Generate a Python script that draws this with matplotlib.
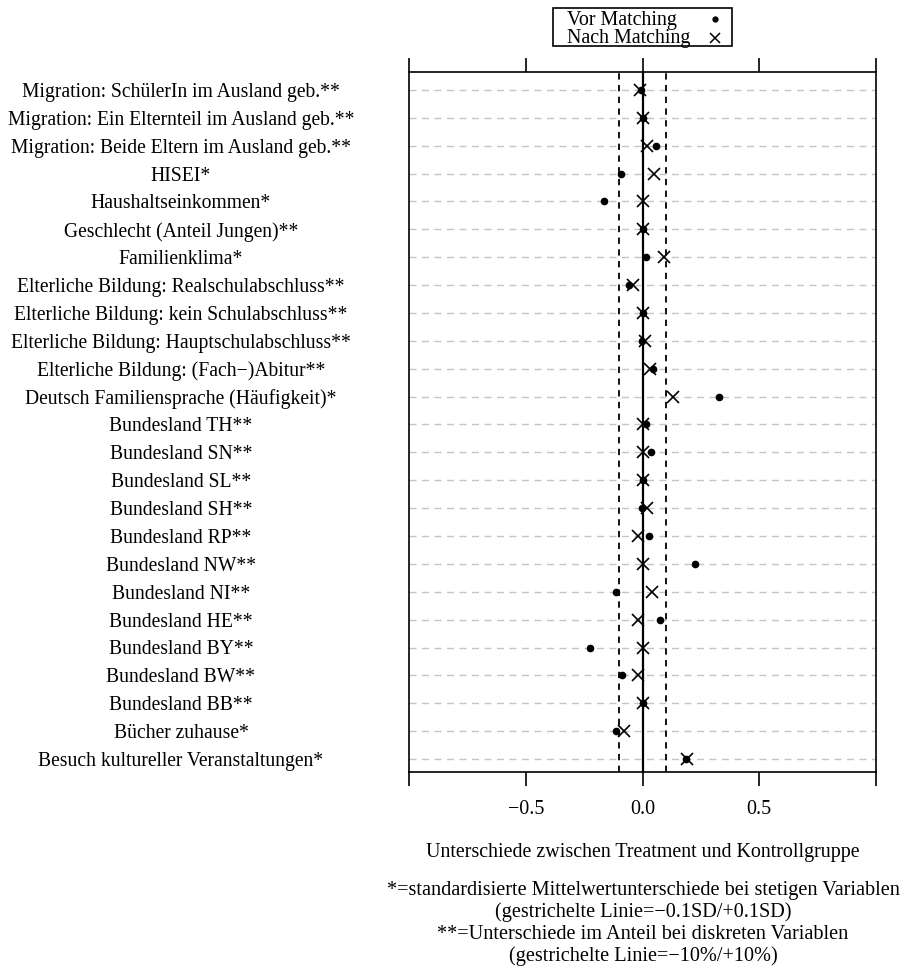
import matplotlib
matplotlib.use("Agg")
import matplotlib.pyplot as plt
import matplotlib.transforms as mtrans
from matplotlib.lines import Line2D
from matplotlib.patches import Rectangle

plt.rcParams['font.family'] = ['Liberation Serif', 'DejaVu Serif']

labels = [
    "Migration: SchülerIn im Ausland geb.**",
    "Migration: Ein Elternteil im Ausland geb.**",
    "Migration: Beide Eltern im Ausland geb.**",
    "HISEI*",
    "Haushaltseinkommen*",
    "Geschlecht (Anteil Jungen)**",
    "Familienklima*",
    "Elterliche Bildung: Realschulabschluss**",
    "Elterliche Bildung: kein Schulabschluss**",
    "Elterliche Bildung: Hauptschulabschluss**",
    "Elterliche Bildung: (Fach\u2212)Abitur**",
    "Deutsch Familiensprache (Häufigkeit)*",
    "Bundesland TH**",
    "Bundesland SN**",
    "Bundesland SL**",
    "Bundesland SH**",
    "Bundesland RP**",
    "Bundesland NW**",
    "Bundesland NI**",
    "Bundesland HE**",
    "Bundesland BY**",
    "Bundesland BW**",
    "Bundesland BB**",
    "Bücher zuhause*",
    "Besuch kultureller Veranstaltungen*",
]

vor = [-0.005, 0.0, 0.056, -0.09, -0.165, 0.0, 0.016, -0.056, 0.0, -0.003,
       0.044, 0.326, 0.016, 0.037, 0.0, -0.003, 0.026, 0.225, -0.113, 0.075,
       -0.225, -0.087, 0.0, -0.113, 0.185]
nach = [-0.01, 0.0, 0.019, 0.051, 0.0, 0.0, 0.091, -0.041, 0.0, 0.011,
        0.03, 0.13, 0.0, 0.0, 0.0, 0.02, -0.02, 0.0, 0.041, -0.021,
        0.0, -0.021, 0.0, -0.081, 0.19]

legend_labels = ["Vor Matching", "Nach Matching"]

xticks = [-1.0, -0.5, 0.0, 0.5, 1.0]
xticklabels = ["", "\u22120.5", "0.0", "0.5", ""]

FS_LAB = 14.1
FS = 14.4
FS_FOOT = 14.6

n = len(labels)
ypos = list(range(n, 0, -1))

W, H = 901, 972
fig = plt.figure(figsize=(W/100, H/100), dpi=100)
ax = fig.add_axes([409/W, (H-772)/H, 467/W, 700/H])

for y in ypos:
    ax.axhline(y, color='#c4c4c4', lw=1.0, ls=(0, (5, 4)), zorder=1)
ax.axvline(0, color='black', lw=1.6, zorder=2)
ax.axvline(-0.1, color='black', lw=1.3, ls=(0, (3.5, 3)), zorder=2)
ax.axvline(0.1, color='black', lw=1.3, ls=(0, (3.5, 3)), zorder=2)

ax.plot(vor, ypos, 'o', color='black', ms=4.5, ls='none', zorder=3)
ax.plot(nach, ypos, 'x', color='black', ms=8, mew=1.2, ls='none', zorder=3)

sp = 669/24
ax.set_xlim(-1.0, 1.0)
ax.set_ylim(1 - 13/sp, n + 18/sp)
ax.set_xticks(xticks)
ax.set_xticklabels(xticklabels, fontsize=FS)
ax.tick_params(axis='x', which='both', direction='out', length=10, width=1.2,
               top=True, bottom=True, labeltop=False, pad=10)
ax.set_yticks([])
for s in ax.spines.values():
    s.set_linewidth(1.2)

lab_tr = mtrans.blended_transform_factory(fig.transFigure, ax.transData) + \
    mtrans.ScaledTranslation(0, -2.5/100, fig.dpi_scale_trans)
for y, lab in zip(ypos, labels):
    ax.text(181/W, y, lab, transform=lab_tr, ha='center', va='center',
            fontsize=FS_LAB, clip_on=False)

fig.text(643/W, 1 - 852/H, "Unterschiede zwischen Treatment und Kontrollgruppe",
         ha='center', va='center', fontsize=FS)
foot = ["*=standardisierte Mittelwertunterschiede bei stetigen Variablen",
        "(gestrichelte Linie=\u22120.1SD/+0.1SD)",
        "**=Unterschiede im Anteil bei diskreten Variablen",
        "(gestrichelte Linie=\u221210%/+10%)"]
for i, t in enumerate(foot):
    fig.text(643/W, 1 - (890 + 22*i)/H, t, ha='center', va='center', fontsize=FS_FOOT)

# legend box drawn manually to match the compact frame
fig.add_artist(Rectangle((553/W, 1 - 46/H), 179/W, 38/H, transform=fig.transFigure,
                         facecolor='white', edgecolor='black', lw=1.2))
leg_y = [18, 37]
fig.text(567/W, 1 - (leg_y[0] + 2)/H, legend_labels[0], ha='left', va='center', fontsize=FS)
fig.text(567/W, 1 - (leg_y[1] + 1.5)/H, legend_labels[1], ha='left', va='center', fontsize=FS)
fig.add_artist(Line2D([715/W], [1 - (leg_y[0] + 1)/H], transform=fig.transFigure,
                      marker='o', color='black', ls='none', ms=3.5))
fig.add_artist(Line2D([715/W], [1 - (leg_y[1] + 1)/H], transform=fig.transFigure,
                      marker='x', color='black', ls='none', ms=7, mew=1.1))

fig.savefig("out.png", dpi=100)
